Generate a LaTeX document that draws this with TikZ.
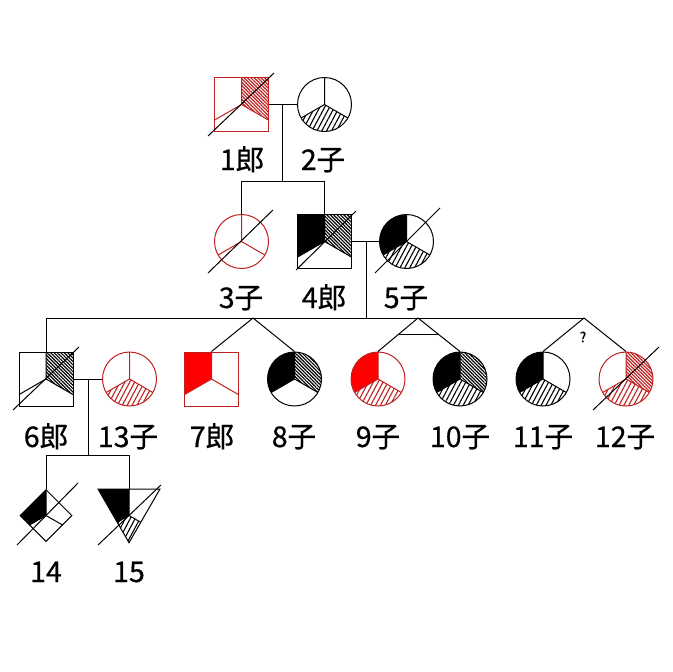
\documentclass[tikz,border=0pt]{standalone}
\usepackage{fontspec}
\setmainfont{Noto Sans CJK JP}[FakeBold=0.6]
\usetikzlibrary{patterns.meta,shapes.geometric,calc}
\definecolor{dred}{RGB}{192,32,32}
\definecolor{bred}{RGB}{255,0,0}
% circle sectors (centre x, centre y, style)
\newcommand\cUL[3]{\path[#3] (#1,#2) -- ++(0,-27) arc[start angle=-90,end angle=-210,radius=27] -- cycle;}
\newcommand\cUR[3]{\path[#3] (#1,#2) -- ++(0,-27) arc[start angle=-90,end angle=30,radius=27] -- cycle;}
\newcommand\cBo[3]{\path[#3] (#1,#2) -- ++(-23.383,13.5) arc[start angle=-210,end angle=-330,radius=27] -- cycle;}
\newcommand\cDiv[3]{\draw[line width=1pt,#3] (#1,#2) ++(0,-27) -- ++(0,27) -- ++(-23.383,13.5) (#1,#2) -- ++(23.383,13.5);}
% square sectors
\newcommand\sUL[3]{\path[#3] (#1,#2) -- ++(0,-27) -- ++(-27,0) -- ++(0,42.59) -- cycle;}
\newcommand\sUR[3]{\path[#3] (#1,#2) -- ++(0,-27) -- ++(27,0) -- ++(0,42.59) -- cycle;}
\newcommand\sBo[3]{\path[#3] (#1,#2) -- ++(-27,15.59) -- ++(0,11.41) -- ++(54,0) -- ++(0,-11.41) -- cycle;}
\newcommand\sDiv[3]{\draw[line width=1pt,#3] (#1,#2) ++(0,-27) -- ++(0,27) -- ++(-27,15.59) (#1,#2) -- ++(27,15.59);}
\tikzset{
 dense/.style={pattern={Lines[angle=-45,distance=2.4pt,line width=1.2pt]},pattern color=#1},
 sparse/.style={pattern={Lines[angle=62,distance=4.3pt,line width=1.1pt]},pattern color=#1},
 solid/.style={fill=#1},
 sq/.style={draw=#1, rectangle, minimum size=54pt, inner sep=0pt, line width=1pt},
 cc/.style={draw=#1, circle, minimum size=54pt, inner sep=0pt, line width=1pt},
 lbl/.style={anchor=base, font=\fontsize{28.5}{30}\selectfont, inner sep=0pt},
 conn/.style={line width=1pt, black},
 slash/.style={line width=1pt, black},
}
\begin{document}
\begin{tikzpicture}[x=1pt,y=-1pt]
\fill[white] (0,0) rectangle (672,672);
\useasboundingbox (0,0) rectangle (672,672);

% ---- sector fills ----
\sUR{241.5}{104.5}{dense=dred}
\cBo{324.5}{104.5}{sparse=black}
\sUL{324.5}{241.5}{solid=black}
\sUR{324.5}{241.5}{dense=black}
\cUL{406.5}{241.5}{solid=black}
\cBo{406.5}{241.5}{sparse=black}
\sUR{46}{379}{dense=black}
\cBo{129.5}{379}{sparse=dred}
\sUL{211.5}{379}{solid=bred}
\cUL{294.5}{379}{solid=black}
\cUR{294.5}{379}{dense=black}
\cUL{378}{379}{solid=bred}
\cBo{378}{379}{sparse=dred}
\cUL{460}{379}{solid=black}
\cUR{460}{379}{dense=black}
\cBo{460}{379}{sparse=black}
\cUL{543}{379}{solid=black}
\cBo{543}{379}{sparse=black}
\cUR{626}{379}{dense=dred}
\cBo{626}{379}{sparse=dred}
% 14 diamond
\fill[black] (46,489.5) -- (20,515.5) -- (29.5,525) -- (46,515.5) -- cycle;
% 15 triangle
\fill[black] (98,489) -- (129,489) -- (129,515.5) -- (117.2,522.3) -- cycle;
\path[sparse=black] (117.2,522.3) -- (129,515.5) -- (140.8,522.3) -- (129,542.7) -- cycle;

% ---- dividers ----
\sDiv{241.5}{104.5}{dred}
\cDiv{324.5}{104.5}{black}
\cDiv{241.5}{241.5}{dred}
\sDiv{324.5}{241.5}{black}
\cDiv{406.5}{241.5}{black}
\sDiv{46}{379}{black}
\cDiv{129.5}{379}{dred}
\sDiv{211.5}{379}{dred}
\cDiv{294.5}{379}{black}
\cDiv{378}{379}{dred}
\cDiv{460}{379}{black}
\cDiv{543}{379}{black}
\cDiv{626}{379}{dred}
\draw[line width=1pt] (46,489.5) -- (46,515.5) -- (29.5,525) (46,515.5) -- (62.5,525);
\draw[line width=1pt] (129,489) -- (129,515.5) -- (117.2,522.3) (129,515.5) -- (140.8,522.3);

% ---- outlines ----
\node[sq=dred] (p1) at (241.5,104.5) {};
\node[cc=black] (p2) at (324.5,104.5) {};
\node[cc=dred] (p3) at (241.5,241.5) {};
\node[sq=black] (p4) at (324.5,241.5) {};
\node[cc=black] (p5) at (406.5,241.5) {};
\node[sq=black] (p6) at (46,379) {};
\node[cc=dred] (p13) at (129.5,379) {};
\node[sq=dred] (p7) at (211.5,379) {};
\node[cc=black] (p8) at (294.5,379) {};
\node[cc=dred] (p9) at (378,379) {};
\node[cc=black] (p10) at (460,379) {};
\node[cc=black] (p11) at (543,379) {};
\node[cc=dred] (p12) at (626,379) {};
\node[diamond, draw, line width=1pt, inner sep=0pt, minimum width=52pt, minimum height=52pt] (p14) at (46,515.5) {};
\draw[line width=1pt] (98,489) -- (160,489) -- (129,542.7) -- cycle;
\coordinate (p15) at (129,489);

% ---- deceased slashes ----
\draw[slash] (208,136) -- (274,73);
\draw[slash] (208,273) -- (273,210);
\draw[slash] (296,270) -- (356,211);
\draw[slash] (375,273) -- (440,208);
\draw[slash] (13,410) -- (79,347);
\draw[slash] (593,410) -- (659,347);
\draw[slash] (17,545) -- (78,483);
\draw[slash] (98,545) -- (161,485);

% ---- connectors ----
\draw[conn] (p1.east) -- (p2.west);
\coordinate (m1) at (282,104.5);
\coordinate (s1) at (282,181);
\draw[conn] (m1) -- (s1);
\draw[conn] (p3.north) -- (p3.north |- s1) -- (p4.north |- s1) -- (p4.north);
\draw[conn] (p4.east) -- (p5.west);
\coordinate (m2) at (366,241.5);
\coordinate (s2) at (366,318);
\draw[conn] (m2) -- (s2);
\coordinate (tw1) at (253,318);
\coordinate (tw2) at (418,318);
\coordinate (tw3) at (584,318);
\draw[conn] (p6.north) -- (p6.north |- s2) -- (tw3);
\draw[conn] (p7.north) -- (tw1) -- (p8.north);
\draw[conn] (p9.north) -- (tw2) -- (p10.north);
\draw[conn] ($(tw2)!0.5!(p9.north)$) -- ($(tw2)!0.5!(p10.north)$);
\draw[conn] (p11.north) -- (tw3) -- (p12.north);
\node[font=\fontsize{14}{16}\selectfont, inner sep=0pt] (q) at (583,337) {?};
\draw[conn] (p6.east) -- (p13.west);
\coordinate (m3) at (88,379);
\coordinate (s3) at (88,455);
\draw[conn] (m3) -- (s3);
\draw[conn] (p14.north) -- (p14.north |- s3) -- (p15 |- s3) -- (p15);

% ---- labels ----
\node[lbl] (l1) at (242,170) {1郎};
\node[lbl] (l2) at (323,170) {2子};
\node[lbl] (l3) at (241,308) {3子};
\node[lbl] (l4) at (324,308) {4郎};
\node[lbl] (l5) at (406,308) {5子};
\node[lbl] (l6) at (46,447) {6郎};
\node[lbl] (l13) at (128,447) {13子};
\node[lbl] (l7) at (212,447) {7郎};
\node[lbl] (l8) at (294,447) {8子};
\node[lbl] (l9) at (378,447) {9子};
\node[lbl] (l10) at (460,447) {10子};
\node[lbl] (l11) at (543,447) {11子};
\node[lbl] (l12) at (625,447) {12子};
\node[lbl] (l14) at (46,582) {14};
\node[lbl] (l15) at (129,582) {15};
\end{tikzpicture}
\end{document}
